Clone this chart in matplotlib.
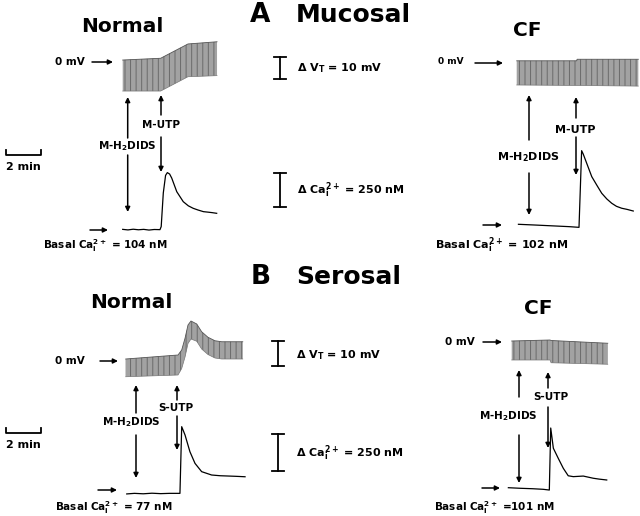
import numpy as np
import matplotlib.pyplot as plt

plt.rcParams['font.family'] = 'DejaVu Sans'
plt.rcParams['font.weight'] = 'bold'
plt.rcParams['mathtext.default'] = 'bf'
plt.rcParams['hatch.linewidth'] = 0.7

W, H = 640, 516
PX_PER_MIN = 17.5

# pixel per unit for each row of panels
A_PX_PER_MV, A_PX_PER_NM = 2.2, 0.1384
B_PX_PER_MV, B_PX_PER_NM = 2.5, 0.1456

# ---- A, mucosal, normal ----
a_norm_vt_t = [0, 2.17, 3.73, 5.39]
a_norm_vt_top = [0.9, 1.7, 8.2, 9.2]
a_norm_vt_bot = [-13.2, -13.2, -6.7, -6.2]
a_norm_ca_t = [0, 0.3, 0.6, 0.9, 1.2, 1.5, 1.8, 2.13, 2.2, 2.32, 2.45, 2.55, 2.68, 2.8,
               3.09, 3.46, 3.75, 4.03, 4.3, 4.61, 4.9, 5.1, 5.37]
a_norm_ca = [105, 101, 106, 102, 105, 100, 104, 103, 125, 368, 495, 515, 505, 476,
             377, 305, 275, 257, 245, 233, 229, 226, 221]
a_norm_basal = 104

# ---- A, mucosal, CF ----
a_cf_vt_t = [0, 3.43, 3.45, 6.95]
a_cf_vt_top = [1.0, 1.0, 1.7, 1.7]
a_cf_vt_bot = [-10.0, -10.2, -10.2, -10.5]
a_cf_ca_t = [0.1, 1.0, 2.0, 3.0, 3.56, 3.71, 3.8, 4.0, 4.29, 4.6, 4.86, 5.15, 5.43,
             5.7, 6.0, 6.3, 6.66]
a_cf_ca = [102, 97, 91, 85, 80, 634, 610, 543, 446, 380, 326, 285, 254, 232, 218,
           210, 198]
a_cf_basal = 102

# ---- B, serosal, normal ----
b_norm_vt_t = [0, 2.99, 3.2, 3.39, 3.56, 3.73, 4.06, 4.34, 4.7, 5.1, 5.49, 6.69]
b_norm_vt_top = [0.8, 2.4, 4.4, 9.1, 14.4, 16.0, 14.8, 11.7, 9.5, 8.1, 7.7, 7.7]
b_norm_vt_bot = [-6.3, -5.6, -3.0, 1.6, 7.0, 8.8, 7.9, 4.8, 2.6, 1.2, 0.8, 0.8]
b_norm_ca_t = [0.06, 0.5, 1.0, 1.5, 2.0, 2.5, 3.1, 3.2, 3.39, 3.67, 3.96, 4.34, 4.91,
               5.4, 5.86, 6.3, 6.82]
b_norm_ca = [74, 78, 75, 79, 76, 78, 78, 536, 479, 364, 284, 227, 204, 199, 197,
             195, 192]
b_norm_basal = 77

# ---- B, serosal, CF ----
b_cf_vt_t = [0, 2.19, 2.25, 5.49]
b_cf_vt_top = [0.4, 0.8, 0.6, -0.5]
b_cf_vt_bot = [-7.2, -7.2, -8.3, -8.9]
b_cf_ca_t = [-0.19, 0.5, 1.2, 1.8, 2.15, 2.23, 2.38, 2.66, 2.95, 3.23, 3.52, 4.09,
             4.66, 5.0, 5.43]
b_cf_ca = [103, 99, 96, 92, 87, 513, 374, 305, 236, 185, 179, 183, 168, 162, 156]
b_cf_basal = 101

fig = plt.figure(figsize=(W / 100, H / 100), dpi=100)
fig.patch.set_facecolor('white')

ov = fig.add_axes([0, 0, 1, 1])
ov.set_xlim(0, W)
ov.set_ylim(H, 0)
ov.axis('off')


def trace_axes(x0, y0, px_per_unit, base=0.0):
    # full-figure axes where time 0 sits at pixel x0 and value `base` at pixel y0
    ax = fig.add_axes([0, 0, 1, 1])
    ax.set_xlim(-x0 / PX_PER_MIN, (W - x0) / PX_PER_MIN)
    ax.set_ylim(base - (H - y0) / px_per_unit, base + y0 / px_per_unit)
    ax.axis('off')
    ax.patch.set_alpha(0)
    return ax


def draw_band(ax, t, top, bot):
    t = np.asarray(t)
    xs = np.concatenate([t, t[::-1]])
    ys = np.concatenate([top, bot[::-1]])
    ax.fill(xs, ys, facecolor='#a2a2a2', edgecolor='#6a6a6a', hatch='|||', lw=0)
    ax.plot(t, top, color='#555555', lw=0.6)
    ax.plot(t, bot, color='#777777', lw=0.5)


def arrow(x1, y1, x2, y2):
    ov.annotate('', xy=(x2, y2), xytext=(x1, y1),
                arrowprops=dict(arrowstyle='-|>', color='k', lw=1.1,
                                mutation_scale=7, shrinkA=0, shrinkB=0))


def label(x, y, s, size=7.5, ha='center'):
    ov.text(x, y, s, fontsize=size, ha=ha, va='center', fontweight='bold')


def vbar(x, y_top, length):
    ov.plot([x, x], [y_top, y_top + length], 'k', lw=1.3)
    ov.plot([x - 6, x + 6], [y_top, y_top], 'k', lw=1.3)
    ov.plot([x - 6, x + 6], [y_top + length] * 2, 'k', lw=1.3)


def time_bar(x, y):
    L = 2 * PX_PER_MIN
    ov.plot([x, x, x + L, x + L], [y - 5, y, y, y - 5], 'k', lw=1.3)
    label(x + L / 2, y + 12, '2 min', size=8)


CA = 'Ca$_{i}^{2+}$'

# ---- traces ----
ax = trace_axes(122.7, 62, A_PX_PER_MV)
draw_band(ax, a_norm_vt_t, a_norm_vt_top, a_norm_vt_bot)
ax = trace_axes(122.7, 229.5, A_PX_PER_NM, a_norm_basal)
ax.plot(a_norm_ca_t, a_norm_ca, 'k', lw=0.9)

ax = trace_axes(516.7, 63, A_PX_PER_MV)
draw_band(ax, a_cf_vt_t, a_cf_vt_top, a_cf_vt_bot)
ax = trace_axes(516.7, 224.3, A_PX_PER_NM, a_cf_basal)
ax.plot(a_cf_ca_t, a_cf_ca, 'k', lw=0.9)

ax = trace_axes(125.7, 361, B_PX_PER_MV)
draw_band(ax, b_norm_vt_t, b_norm_vt_top, b_norm_vt_bot)
ax = trace_axes(125.7, 493.5, B_PX_PER_NM, b_norm_basal)
ax.plot(b_norm_ca_t, b_norm_ca, 'k', lw=0.9)

ax = trace_axes(511.7, 342, B_PX_PER_MV)
draw_band(ax, b_cf_vt_t, b_cf_vt_top, b_cf_vt_bot)
ax = trace_axes(511.7, 488, B_PX_PER_NM, b_cf_basal)
ax.plot(b_cf_ca_t, b_cf_ca, 'k', lw=0.9)

# ---- headings ----
ov.text(260, 15, 'A', fontsize=19, ha='center', va='center', fontweight='bold')
ov.text(353, 15, 'Mucosal', fontsize=18, ha='center', va='center', fontweight='bold')
ov.text(261, 277, 'B', fontsize=19, ha='center', va='center', fontweight='bold')
ov.text(349, 277, 'Serosal', fontsize=18, ha='center', va='center', fontweight='bold')
ov.text(122, 27, 'Normal', fontsize=14.5, ha='center', va='center', fontweight='bold')
ov.text(527, 30, 'CF', fontsize=14.5, ha='center', va='center', fontweight='bold')
ov.text(131, 303, 'Normal', fontsize=14.5, ha='center', va='center', fontweight='bold')
ov.text(538, 308, 'CF', fontsize=14.5, ha='center', va='center', fontweight='bold')

# ---- 0 mV markers ----
label(55, 62, '0 mV', ha='left')
arrow(92, 62, 113, 62)
label(438, 62, '0 mV', size=6.5, ha='left')
arrow(475, 63, 503, 63)
label(55, 361, '0 mV', ha='left')
arrow(100, 361, 118, 361)
label(445, 342, '0 mV', ha='left')
arrow(483, 342, 502, 342)

# ---- basal markers ----
arrow(90, 230, 108, 230)
label(105, 246, 'Basal ' + CA + ' = 104 nM')
arrow(483, 225, 502, 225)
label(502, 245, 'Basal ' + CA + ' = 102 nM', size=8)
arrow(98, 490, 117, 490)
label(114, 508, 'Basal ' + CA + ' = 77 nM')
arrow(482, 488, 500, 488)
label(494, 508, 'Basal ' + CA + ' =101 nM')

# ---- drug additions ----
arrow(127.7, 138, 127.7, 97)
arrow(127.7, 155, 127.7, 212)
label(127.7, 146, 'M-H$_{2}$DIDS')
arrow(161, 115, 161, 95)
arrow(161, 137, 161, 172)
label(161, 125, 'M-UTP')

arrow(529, 140, 529, 95)
arrow(529, 173, 529, 215)
label(528, 157, 'M-H$_{2}$DIDS', size=8)
arrow(576, 118, 576, 97)
arrow(576, 137, 576, 175)
label(575, 130, 'M-UTP', size=8)

arrow(136, 413, 136, 385)
arrow(136, 435, 136, 478)
label(131, 422, 'M-H$_{2}$DIDS')
arrow(177, 400, 177, 385)
arrow(177, 416, 177, 450)
label(176, 408, 'S-UTP')

arrow(519, 397, 519, 370)
arrow(519, 435, 519, 483)
label(508, 416, 'M-H$_{2}$DIDS')
arrow(548, 388, 548, 372)
arrow(548, 407, 548, 448)
label(551, 397, 'S-UTP')

# ---- calibration bars ----
vbar(280, 57.3, 10 * A_PX_PER_MV)
label(297, 68, '$\\mathrm{\\Delta}$ V$_{T}$ = 10 mV', size=8, ha='left')
vbar(280, 172.7, 250 * A_PX_PER_NM)
label(297, 190, '$\\mathrm{\\Delta}$ ' + CA + ' = 250 nM', size=8, ha='left')
vbar(278, 341, 10 * B_PX_PER_MV)
label(296, 355, '$\\mathrm{\\Delta}$ V$_{T}$ = 10 mV', size=8, ha='left')
vbar(278, 434.3, 250 * B_PX_PER_NM)
label(296, 453, '$\\mathrm{\\Delta}$ ' + CA + ' = 250 nM', size=8, ha='left')

time_bar(6, 155)
time_bar(6, 433)

fig.savefig('out.png', dpi=100)
